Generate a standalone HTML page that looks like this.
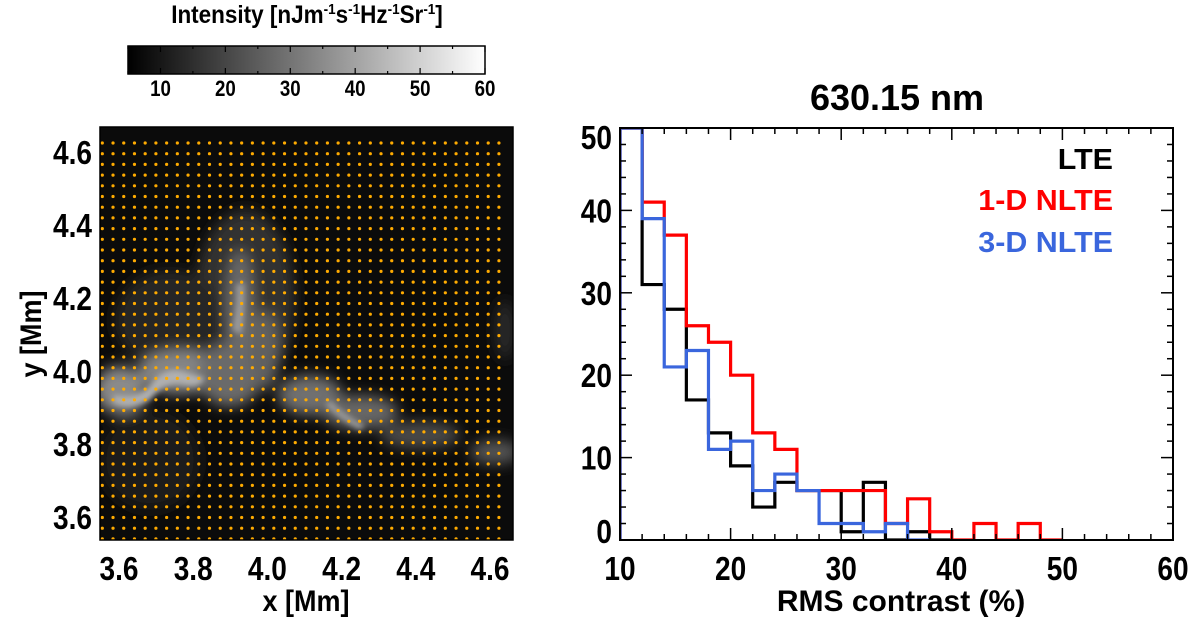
<!DOCTYPE html>
<html><head><meta charset="utf-8">
<style>
html,body{margin:0;padding:0;background:#fff;}
svg{display:block;font-family:"Liberation Sans",Arial,sans-serif;font-weight:bold;}
</style></head>
<body>
<svg id="fig" width="1200" height="620" viewBox="0 0 1200 620">
<defs>
<linearGradient id="cbgrad" x1="0" x2="1" y1="0" y2="0">
<stop offset="0" stop-color="#000"/><stop offset="1" stop-color="#fff"/>
</linearGradient>
<filter id="blur" x="-30%" y="-30%" width="160%" height="160%"><feGaussianBlur stdDeviation="7"/></filter>
<filter id="blur2" x="-20%" y="-20%" width="140%" height="140%"><feGaussianBlur stdDeviation="3"/></filter>
<clipPath id="mapclip"><rect x="100" y="127" width="413" height="413"/></clipPath>
<clipPath id="hc"><rect x="620" y="128" width="553" height="413"/></clipPath>
</defs>

<g>
<g transform="translate(307,23) scale(0.9,1)">
<text x="0" y="0" font-size="25" text-anchor="middle">Intensity [nJm<tspan font-size="15" dy="-9">-1</tspan><tspan dy="9">s</tspan><tspan font-size="15" dy="-9">-1</tspan><tspan dy="9">Hz</tspan><tspan font-size="15" dy="-9">-1</tspan><tspan dy="9">Sr</tspan><tspan font-size="15" dy="-9">-1</tspan><tspan dy="9">]</tspan></text>
</g>
<rect x="128" y="46" width="357" height="28" fill="url(#cbgrad)" stroke="#000" stroke-width="1.5"/>
<g id="cbticks"></g>
</g>

<g>
<rect x="100" y="127" width="413" height="413" fill="#0b0b0b"/>
<g clip-path="url(#mapclip)">
<g filter="url(#blur)">
<ellipse cx="245" cy="300" rx="50" ry="90" fill="#333"/>
<ellipse cx="170" cy="320" rx="55" ry="50" fill="#262626"/>
<ellipse cx="150" cy="460" rx="50" ry="50" fill="#1e1e1e"/>
<ellipse cx="120" cy="390" rx="25" ry="24" fill="#8a8a8a"/>
<ellipse cx="180" cy="372" rx="42" ry="22" fill="#858585"/>
<ellipse cx="230" cy="375" rx="32" ry="32" fill="#6a6a6a"/>
<ellipse cx="240" cy="310" rx="14" ry="60" fill="#6a6a6a"/>
<ellipse cx="265" cy="350" rx="15" ry="40" fill="#606060"/>
<ellipse cx="310" cy="395" rx="32" ry="20" fill="#707070"/>
<ellipse cx="360" cy="412" rx="38" ry="17" fill="#666"/>
<ellipse cx="420" cy="435" rx="40" ry="14" fill="#4a4a4a"/>
<ellipse cx="495" cy="452" rx="25" ry="12" fill="#555"/>
<ellipse cx="505" cy="330" rx="10" ry="30" fill="#2a2a2a"/>
</g>
<g filter="url(#blur2)" fill="#b0b0b0">
<path d="M115 395 Q135 400 150 385 Q165 365 185 372 L205 378 Q200 388 185 385 Q165 380 150 400 Q130 412 112 402 Z"/>
<path d="M232 330 Q238 300 236 285 L244 282 Q246 305 242 335 Z" fill="#999"/>
<path d="M330 400 Q345 415 365 425 L360 430 Q340 420 325 405 Z" fill="#999"/>
</g>
</g>
<g id="dots" clip-path="url(#mapclip)"></g>
<rect x="100" y="127" width="413" height="413" fill="none" stroke="#000" stroke-width="1.5"/>
<g id="mapticks"></g>
<g transform="translate(306,611) scale(0.9,1)"><text font-size="30" text-anchor="middle">x [Mm]</text></g>
<g transform="translate(41,334) rotate(-90) scale(0.9,1)"><text font-size="30" text-anchor="middle">y [Mm]</text></g>
</g>

<g>
<g transform="translate(897,110)"><text font-size="36" text-anchor="middle">630.15 nm</text></g>
<g id="hist"></g>
<rect x="620" y="128" width="553" height="412" fill="none" stroke="#000" stroke-width="2"/>
<g id="hticks"></g>
<g transform="translate(901,611)"><text font-size="30" text-anchor="middle">RMS contrast (%)</text></g>
<g transform="translate(1113,169) scale(1.05,1)"><text font-size="29" text-anchor="end" fill="#000">LTE</text></g>
<g transform="translate(1113,210) scale(1.05,1)"><text font-size="29" text-anchor="end" fill="#ff0000">1-D NLTE</text></g>
<g transform="translate(1113,252) scale(1.05,1)"><text font-size="29" text-anchor="end" fill="#3a66dd">3-D NLTE</text></g>
</g>
</svg>
<script>
const NS='http://www.w3.org/2000/svg';
function mk(tag,attrs,parent){const e=document.createElementNS(NS,tag);for(const k in attrs)e.setAttribute(k,attrs[k]);parent.appendChild(e);return e;}
function label(parent,x,y,str,size,anchor){
  const g=mk('g',{transform:'translate('+x+','+y+') scale(0.85,1)'},parent);
  const t=mk('text',{x:0,y:0,'font-size':size,'text-anchor':anchor},g);
  t.textContent=str;return t;
}

const binStart=10, binWidth=2;
const lteCounts  =[60,31,28,17,13,9,4,7,6,6,1,7,0,1,0];
const nlte1Counts=[60,41,37,26,24,20,13,11,6,6,6,6,2,5,1,0,2,0,2,0];
const nlte3Counts=[60,39,21,23,11,12,6,8,6,2,2,1,2,0];
const xTickLabels=[10,20,30,40,50,60];
const yTickLabels=[0,10,20,30,40,50];
const cbTickLabels=[10,20,30,40,50,60];
const mapTickLabels=[3.6,3.8,4.0,4.2,4.4,4.6];

const yMin=0,yMax=50;
const hx=v=>620+(v-10)/50*553;
const hy=v=>540-(Math.min(v,yMax)-yMin)/(yMax-yMin)*412;
const hist=document.getElementById('hist');
function step(counts,color,name){
  let d='';
  counts.forEach((c,i)=>{const x0=hx(binStart+i*binWidth),x1=hx(binStart+(i+1)*binWidth),y=hy(c);
    d+=(i===0?'M'+x0+' '+hy(yMin)+' L'+x0+' '+y:' L'+x0+' '+y)+' L'+x1+' '+y;});
  const p=mk('path',{d:d,fill:'none',stroke:color,'stroke-width':3.2,'clip-path':'url(#hc)'},hist);
  
  
}
step(lteCounts,'#000','lte-histogram');
step(nlte1Counts,'#ff0000','1d-nlte-histogram');
step(nlte3Counts,'#3a66dd','3d-nlte-histogram');

const ht=document.getElementById('hticks');
for(let v=10;v<=60;v+=2){const major=(v%10===0),x=hx(v),L=major?12:6;
  mk('line',{x1:x,y1:540,x2:x,y2:540-L,stroke:'#000','stroke-width':1.5},ht);
  mk('line',{x1:x,y1:128,x2:x,y2:128+L,stroke:'#000','stroke-width':1.5},ht);}
for(let v=0;v<=50;v+=2){const major=(v%10===0),y=hy(v),L=major?12:6;
  mk('line',{x1:620,y1:y,x2:620+L,y2:y,stroke:'#000','stroke-width':1.5},ht);
  mk('line',{x1:1173,y1:y,x2:1173-L,y2:y,stroke:'#000','stroke-width':1.5},ht);}
xTickLabels.forEach(v=>{const t=label(ht,hx(v),580,String(v),33,'middle');
  
  });
yTickLabels.forEach(v=>{let y=hy(v)+12; if(v===yMin)y-=9; if(v===yMax)y+=9;
  const t=label(ht,612,y,String(v),33,'end');
  
  });

const cbx=v=>128+(v-5)/55*357;
const cbt=document.getElementById('cbticks');
for(let v=5;v<=60;v+=5){const x=cbx(v),L=(v%10===0)?6:3;
  mk('line',{x1:x,y1:46,x2:x,y2:46+L,stroke:'#000','stroke-width':1.2},cbt);
  mk('line',{x1:x,y1:74,x2:x,y2:74-L,stroke:'#000','stroke-width':1.2},cbt);}
cbTickLabels.forEach(v=>{const t=label(cbt,cbx(v),96,String(v),22,'middle');
  
  });

const mx=v=>119+(v-3.6)/1.0*371;
const my=v=>517-(v-3.6)/1.0*365;
const mt=document.getElementById('mapticks');
mapTickLabels.forEach(v=>{
  const a=label(mt,mx(v),580,v.toFixed(1),33,'middle');
  
  
  const b=label(mt,92,my(v)+12,v.toFixed(1),33,'end');
  
  });
const dots=document.getElementById('dots');


for(let i=0;i<38;i++)for(let j=0;j<38;j++){
  mk('circle',{cx:102.3+i*10.72,cy:143+j*10.7,r:1.6,fill:'#ffab00'},dots);}
</script>
</body></html>
